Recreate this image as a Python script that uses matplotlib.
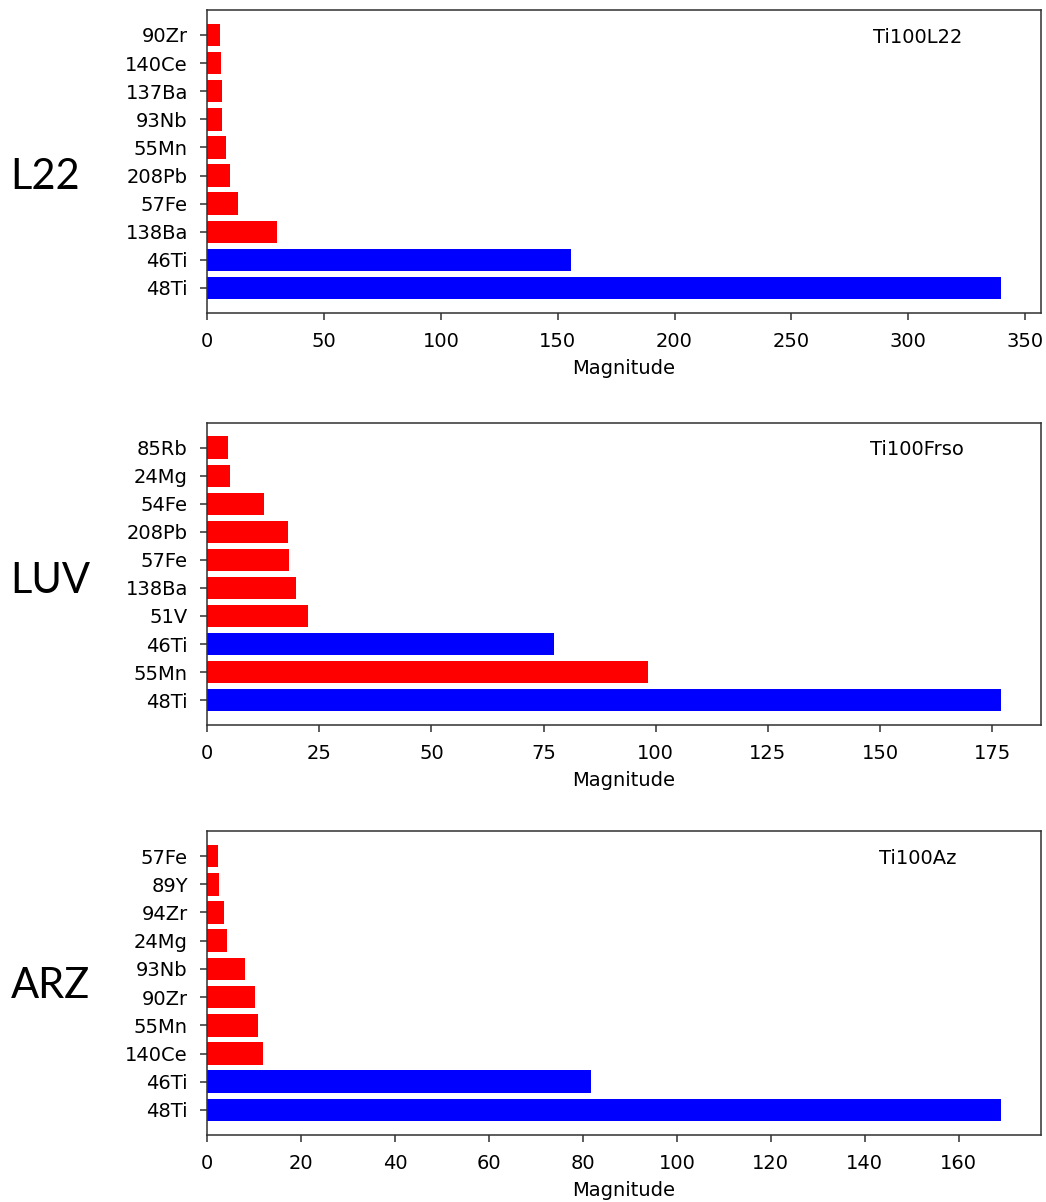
import matplotlib
matplotlib.use("Agg")
import matplotlib.pyplot as plt

# Panel 1 (L22) - bottom to top
l22_labels = ["48Ti", "46Ti", "138Ba", "57Fe", "208Pb", "55Mn", "93Nb", "137Ba", "140Ce", "90Zr"]
l22_values = [339.7, 155.6, 29.9, 13.3, 9.6, 7.9, 6.3, 6.3, 5.8, 5.6]
l22_colors = ["blue", "blue", "red", "red", "red", "red", "red", "red", "red", "red"]

# Panel 2 (LUV)
luv_labels = ["48Ti", "55Mn", "46Ti", "51V", "138Ba", "57Fe", "208Pb", "54Fe", "24Mg", "85Rb"]
luv_values = [177.0, 98.3, 77.4, 22.5, 19.9, 18.3, 18.0, 12.6, 5.2, 4.7]
luv_colors = ["blue", "red", "blue", "red", "red", "red", "red", "red", "red", "red"]

# Panel 3 (ARZ)
arz_labels = ["48Ti", "46Ti", "140Ce", "55Mn", "90Zr", "93Nb", "24Mg", "94Zr", "89Y", "57Fe"]
arz_values = [169.0, 81.8, 11.8, 10.9, 10.3, 8.0, 4.2, 3.7, 2.6, 2.25]
arz_colors = ["blue", "blue", "red", "red", "red", "red", "red", "red", "red", "red"]

panel_names = ["L22", "LUV", "ARZ"]
panel_tags = ["Ti100L22", "Ti100Frso", "Ti100Az"]

plt.rcParams['font.family'] = ['DejaVu Sans']
fig = plt.figure(figsize=(10.46, 12.02), dpi=100)

S = 1.4  # scale of the original rendering
axes_rects = [
    [0.198, 0.7396, 0.797, 0.2521],
    [0.198, 0.3968, 0.797, 0.2515],
    [0.198, 0.0557, 0.797, 0.2530],
]
name_pos = [(0.010, 0.853), (0.010, 0.517), (0.010, 0.180)]

data = [(l22_labels, l22_values, l22_colors),
        (luv_labels, luv_values, luv_colors),
        (arz_labels, arz_values, arz_colors)]

for i, (labels, values, colors) in enumerate(data):
    ax = fig.add_axes(axes_rects[i])
    ax.barh(labels, values, color=colors, height=0.8)
    ax.set_xlabel("Magnitude", fontsize=10 * S, labelpad=4 * S)
    ax.tick_params(axis='both', labelsize=10 * S, length=3.5 * S,
                   width=0.8 * S, pad=9, color='#333333')
    ax.text(0.852, 0.91, panel_tags[i], transform=ax.transAxes,
            ha='center', va='center', fontsize=10 * S)
    for s in ax.spines.values():
        s.set_color('#333333')
        s.set_linewidth(0.8 * S)
    fig.text(name_pos[i][0], name_pos[i][1], panel_names[i], fontsize=30,
             family=['Lato', 'DejaVu Sans'], ha='left', va='center')

fig.savefig("out.png", dpi=100)
